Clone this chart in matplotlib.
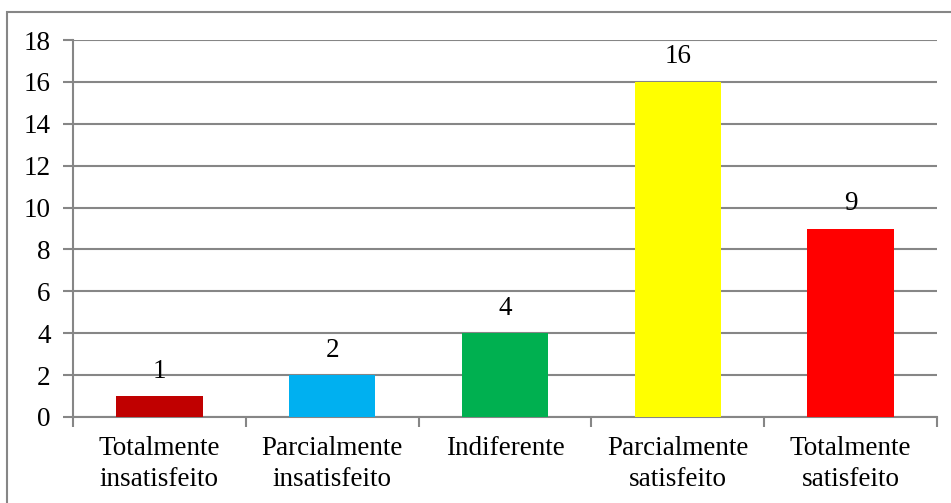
import matplotlib.pyplot as plt
from matplotlib.patches import Rectangle

categories = ["Totalmente\ninsatisfeito", "Parcialmente\ninsatisfeito", "Indiferente",
              "Parcialmente\nsatisfeito", "Totalmente\nsatisfeito"]
values = [1, 2, 4, 16, 9]
colors = ["#C00000", "#00B0F0", "#00B050", "#FFFF00", "#FF0000"]
y_ticks = [0, 2, 4, 6, 8, 10, 12, 14, 16, 18]

plt.rcParams["font.family"] = ["Liberation Serif", "DejaVu Serif"]
grid_col = "#868686"
fs = 19.5

fig = plt.figure(figsize=(9.51, 5.03), dpi=100)
W, H = 951, 503
ax = fig.add_axes([73 / W, 1 - 417 / H, (937 - 73) / W, (417 - 40) / H])

x = list(range(len(values)))
ax.bar(x, values, width=0.5, color=colors, zorder=3)
for xi, v in zip(x, values):
    ax.annotate(str(v), (xi, v), xytext=(0, 9), textcoords="offset points",
                ha="center", va="bottom", fontsize=fs, color="black", zorder=4)

ax.set_xlim(-0.5, len(values) - 0.5)
ax.set_ylim(0, 18)
ax.set_yticks(y_ticks)
ax.set_yticklabels([str(t) for t in y_ticks], fontsize=fs)
ax.yaxis.grid(True, color=grid_col, linewidth=1.5, zorder=0)
ax.set_axisbelow(True)

# category labels between boundary ticks
ax.set_xticks(x)
ax.set_xticklabels(categories, fontsize=fs, linespacing=1.27)
ax.tick_params(axis="x", length=0, pad=14)
ax.set_xticks([i - 0.5 for i in range(len(values) + 1)], minor=True)
ax.tick_params(axis="x", which="minor", length=7, width=1.5, color=grid_col, direction="out")
ax.tick_params(axis="y", length=7, width=1.5, color=grid_col, pad=9)

for side in ["top", "right"]:
    ax.spines[side].set_visible(False)
for side in ["left", "bottom"]:
    ax.spines[side].set_color(grid_col)
    ax.spines[side].set_linewidth(1.5)

# chart area frame
fig.patches.append(Rectangle((7 / W, -0.1), 1.2, 1 - 12 / H + 0.1, transform=fig.transFigure,
                             fill=False, edgecolor=grid_col, linewidth=1.5))

fig.savefig("out.png", dpi=100)
